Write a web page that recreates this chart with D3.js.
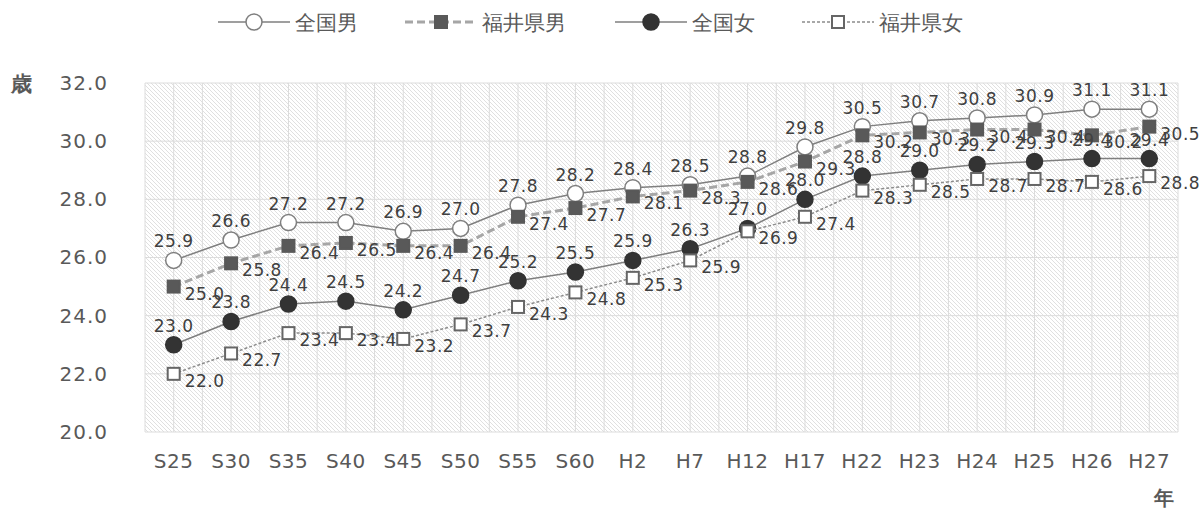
<!DOCTYPE html>
<html>
<head>
<meta charset="utf-8">
<script src="https://cdn.jsdelivr.net/npm/d3@7"></script>
<style>
  body { margin: 0; background: #fff; }
  text { font-family: "DejaVu Sans", Verdana, sans-serif; }
</style>
</head>
<body>
<div id="chart"></div>
<script>
// data
const years = ["S25", "S30", "S35", "S40", "S45", "S50", "S55", "S60", "H2", "H7",
               "H12", "H17", "H22", "H23", "H24", "H25", "H26", "H27"];
const seriesNames = ["全国男", "福井県男", "全国女", "福井県女"];
const zenkokuMale   = [25.9, 26.6, 27.2, 27.2, 26.9, 27.0, 27.8, 28.2, 28.4, 28.5, 28.8, 29.8, 30.5, 30.7, 30.8, 30.9, 31.1, 31.1];
const fukuiMale     = [25.0, 25.8, 26.4, 26.5, 26.4, 26.4, 27.4, 27.7, 28.1, 28.3, 28.6, 29.3, 30.2, 30.3, 30.4, 30.4, 30.2, 30.5];
const zenkokuFemale = [23.0, 23.8, 24.4, 24.5, 24.2, 24.7, 25.2, 25.5, 25.9, 26.3, 27.0, 28.0, 28.8, 29.0, 29.2, 29.3, 29.4, 29.4];
const fukuiFemale   = [22.0, 22.7, 23.4, 23.4, 23.2, 23.7, 24.3, 24.8, 25.3, 25.9, 26.9, 27.4, 28.3, 28.5, 28.7, 28.7, 28.6, 28.8];
const yTicks = [20, 22, 24, 26, 28, 30, 32];

const values = [zenkokuMale, fukuiMale, zenkokuFemale, fukuiFemale];

// look of each series, same order as seriesNames
const styles = [
    {line: "#7f7f7f", width: 1.5, dash: null,  marker: "circle", fill: "#ffffff", stroke: "#7f7f7f", label: "top"},
    {line: "#a6a6a6", width: 3,   dash: "8,4", marker: "square", fill: "#595959", stroke: "#595959", label: "right"},
    {line: "#7f7f7f", width: 1.5, dash: null,  marker: "circle", fill: "#333333", stroke: "#333333", label: "top"},
    {line: "#8c8c8c", width: 1.5, dash: "3,2", marker: "square", fill: "#ffffff", stroke: "#666666", label: "right"}
];

const W = 1199, H = 511;
const plot = {left: 145, right: 1178, top: 83, bottom: 432};

const svg = d3.select("#chart").append("svg")
    .attr("width", W)
    .attr("height", H);

const x = d3.scaleBand()
    .domain(years)
    .range([plot.left, plot.right]);
const bw = x.bandwidth();
const cx = d => x(d) + bw / 2;

const y = d3.scaleLinear()
    .domain([20, 32])
    .range([plot.bottom, plot.top]);

// hatched background
const defs = svg.append("defs");
const pat = defs.append("pattern")
    .attr("id", "hatch")
    .attr("patternUnits", "userSpaceOnUse")
    .attr("width", 4)
    .attr("height", 4);
pat.append("rect").attr("width", 4).attr("height", 4).attr("fill", "#ffffff");
pat.append("path")
    .attr("d", "M-1,-1 L5,5 M-1,3 L1,5 M3,-1 L5,1")
    .attr("stroke", "#e0e0e0")
    .attr("stroke-width", 1);

svg.append("rect")
    .attr("x", plot.left)
    .attr("y", plot.top)
    .attr("width", plot.right - plot.left)
    .attr("height", plot.bottom - plot.top)
    .attr("fill", "url(#hatch)");

// grid: vertical lines at band edges and centers
const vLines = [];
years.forEach(d => { vLines.push(x(d)); vLines.push(cx(d)); });
vLines.push(plot.right);

svg.append("g")
    .selectAll("line")
    .data(vLines)
    .join("line")
    .attr("x1", d => d).attr("x2", d => d)
    .attr("y1", plot.top).attr("y2", plot.bottom)
    .attr("stroke", "#dcdcdc")
    .attr("stroke-width", 1);

svg.append("g")
    .selectAll("line")
    .data(yTicks)
    .join("line")
    .attr("x1", plot.left).attr("x2", plot.right)
    .attr("y1", d => y(d)).attr("y2", d => y(d))
    .attr("stroke", "#dcdcdc")
    .attr("stroke-width", 1);

// axes
const yAxis = svg.append("g")
    .attr("transform", `translate(108,0)`)
    .call(d3.axisLeft(y).tickValues(yTicks).tickSize(0).tickPadding(0).tickFormat(d3.format(".1f")));
yAxis.select(".domain").remove();
yAxis.selectAll("text")
    .attr("font-size", 20)
    .attr("letter-spacing", 1)
    .attr("fill", "#595959")
    .attr("font-family", "DejaVu Sans");

const xAxis = svg.append("g")
    .attr("transform", `translate(0,${plot.bottom})`)
    .call(d3.axisBottom(x).tickSize(0).tickPadding(22));
xAxis.select(".domain").remove();
xAxis.selectAll("text")
    .attr("font-size", 20)
    .attr("letter-spacing", 0.5)
    .attr("fill", "#595959")
    .attr("font-family", "DejaVu Sans");

svg.append("text")
    .attr("x", 21).attr("y", 91)
    .attr("text-anchor", "middle")
    .attr("font-size", 21)
    .attr("font-weight", "bold")
    .attr("fill", "#595959")
    .attr("font-family", "Noto Sans CJK JP")
    .text("歳");

svg.append("text")
    .attr("x", 1164).attr("y", 505)
    .attr("text-anchor", "middle")
    .attr("font-size", 20)
    .attr("font-weight", "bold")
    .attr("fill", "#595959")
    .attr("font-family", "Noto Sans CJK JP")
    .text("年");

// markers
function marker(g, s, px, py) {
    if (s.marker === "circle") {
        g.append("circle")
            .attr("cx", px).attr("cy", py).attr("r", 8)
            .attr("fill", s.fill)
            .attr("stroke", s.stroke)
            .attr("stroke-width", 1.5);
    } else {
        g.append("rect")
            .attr("x", px - 6).attr("y", py - 6)
            .attr("width", 12).attr("height", 12)
            .attr("fill", s.fill)
            .attr("stroke", s.stroke)
            .attr("stroke-width", 2);
    }
}

const line = d3.line()
    .x((d, i) => cx(years[i]))
    .y(d => y(d));

values.forEach(function (vals, k) {
    const s = styles[k];
    const g = svg.append("g").attr("class", "series");
    g.append("path")
        .datum(vals)
        .attr("d", line)
        .attr("fill", "none")
        .attr("stroke", s.line)
        .attr("stroke-width", s.width)
        .attr("stroke-dasharray", s.dash);
    vals.forEach((v, i) => marker(g, s, cx(years[i]), y(v)));
});

// data labels on top
values.forEach(function (vals, k) {
    const s = styles[k];
    svg.append("g")
        .selectAll("text")
        .data(vals)
        .join("text")
        .attr("x", (d, i) => s.label === "top" ? cx(years[i]) : cx(years[i]) + 11)
        .attr("y", d => s.label === "top" ? y(d) - 13 : y(d) + 13)
        .attr("text-anchor", s.label === "top" ? "middle" : "start")
        .attr("font-size", 17)
        .attr("letter-spacing", 0.5)
        .attr("fill", "#404040")
        .text(d => d3.format(".1f")(d));
});

// legend
const legendX = [218, 405, 615, 802];
const legend = svg.append("g");
seriesNames.forEach(function (name, k) {
    const s = styles[k];
    const lx = legendX[k];
    const ly = 22;
    legend.append("line")
        .attr("x1", lx).attr("x2", lx + 72)
        .attr("y1", ly).attr("y2", ly)
        .attr("stroke", s.line)
        .attr("stroke-width", s.width)
        .attr("stroke-dasharray", s.dash);
    marker(legend, s, lx + 36, ly);
    legend.append("text")
        .attr("x", lx + 77)
        .attr("y", ly)
        .attr("dy", "0.36em")
        .attr("font-size", 21)
        .attr("fill", "#595959")
        .attr("font-family", "Noto Sans CJK JP")
        .text(name);
});
</script>
</body>
</html>
